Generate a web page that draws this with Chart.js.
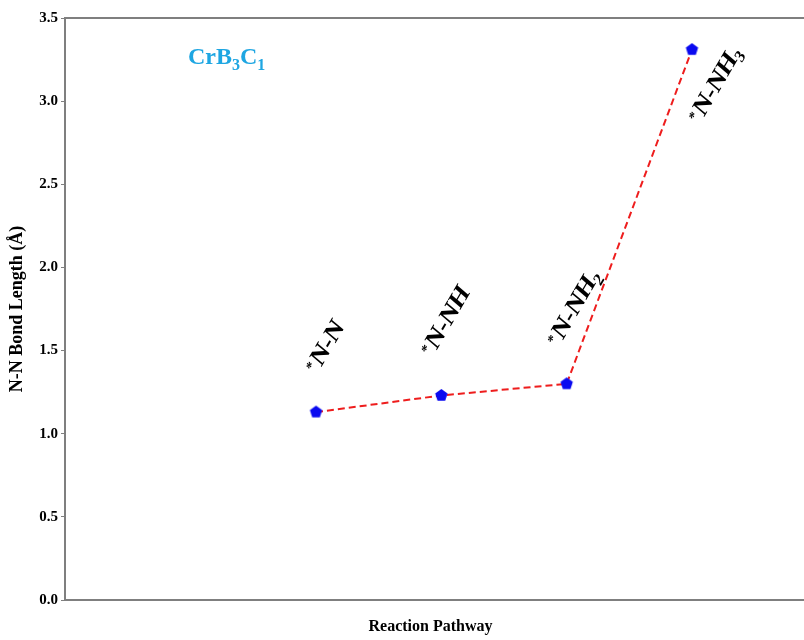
<!DOCTYPE html>
<html>
<head>
<meta charset="utf-8">
<script src="https://cdn.jsdelivr.net/npm/chart.js@4.4.1/dist/chart.umd.min.js"></script>
<style>
  html, body { margin: 0; padding: 0; background: #fff; overflow: hidden; }
  #bondChart { display: block; }
</style>
</head>
<body>
<canvas id="bondChart" width="804" height="640"></canvas>
<script>
// N-N bond length along the NRR pathway on CrB3C1
const steps = ['N-N', 'N-NH', 'N-NH2', 'N-NH3'];
const bondLengths = [1.13, 1.23, 1.30, 3.31];
const yTicks = [0.0, 0.5, 1.0, 1.5, 2.0, 2.5, 3.0, 3.5];
const systemName = 'CrB3C1';

const serif = '"Liberation Serif", "Times New Roman", serif';
const spineColor = '#7f7f7f';

// blue pentagon marker
function pentagon(r, color) {
    const c = document.createElement('canvas');
    const s = Math.ceil(r * 2 + 2);
    c.width = s; c.height = s;
    const g = c.getContext('2d');
    g.beginPath();
    for (let k = 0; k < 5; k++) {
        const a = -Math.PI / 2 + k * 2 * Math.PI / 5;
        const px = s / 2 + r * Math.cos(a), py = s / 2 + r * Math.sin(a);
        k ? g.lineTo(px, py) : g.moveTo(px, py);
    }
    g.closePath();
    g.fillStyle = color;
    g.fill();
    return c;
}

// draw text pieces (normal / sup / sub) in a row, centred on 0
function drawPieces(ctx, pieces) {
    let total = 0;
    pieces.forEach(p => { ctx.font = p.font; p.w = ctx.measureText(p.text).width; total += p.w + (p.gap || 0); });
    let x = -total / 2;
    pieces.forEach(p => {
        ctx.font = p.font;
        ctx.fillText(p.text, x, p.dy);
        x += p.w + (p.gap || 0);
    });
}

const stepLabels = {
    id: 'stepLabels',
    afterDatasetsDraw(chart) {
        const ctx = chart.ctx;
        const pts = chart.getDatasetMeta(0).data;
        const shifts = [[8, -66], [3, -75], [6, -77], [22, 34]];
        ctx.save();
        ctx.fillStyle = '#000';
        ctx.textBaseline = 'alphabetic';
        pts.forEach((pt, i) => {
            const m = steps[i].match(/^(.*?)(\d*)$/);
            const pieces = [
                { text: '*', font: 'bold 13px ' + serif, dy: 3, gap: 2 },
                { text: m[1], font: 'bold 23px ' + serif, dy: 8 }
            ];
            if (m[2]) pieces.push({ text: m[2], font: 'bold 15px ' + serif, dy: 13 });
            ctx.save();
            ctx.translate(pt.x + shifts[i][0], pt.y + shifts[i][1]);
            ctx.scale(1, 1.2);
            ctx.rotate(-55 * Math.PI / 180);
            drawPieces(ctx, pieces);
            ctx.restore();
        });
        ctx.restore();
    }
};

const frame = {
    id: 'frame',
    afterDraw(chart) {
        const { ctx, chartArea } = chart;
        ctx.save();
        // top and bottom spines, running to the canvas edge
        ctx.strokeStyle = spineColor;
        ctx.lineWidth = 2;
        ctx.beginPath();
        ctx.moveTo(chartArea.left, chartArea.top);
        ctx.lineTo(chart.width, chartArea.top);
        ctx.moveTo(chartArea.left - 1, chartArea.bottom);
        ctx.lineTo(chart.width, chartArea.bottom);
        ctx.stroke();

        // system name, with subscripts
        const m = systemName.match(/[A-Z][a-z]?\d*/g);
        let x = chartArea.left + 123;
        const base = chartArea.top + 46;
        ctx.fillStyle = '#1ea6e2';
        ctx.textBaseline = 'alphabetic';
        m.forEach(part => {
            const el = part.replace(/\d+/, ''), n = part.replace(/\D+/, '');
            ctx.font = 'bold 24px ' + serif;
            ctx.fillText(el, x, base);
            x += ctx.measureText(el).width;
            if (n) {
                ctx.font = 'bold 16px ' + serif;
                ctx.fillText(n, x, base + 6);
                x += ctx.measureText(n).width;
            }
        });
        ctx.restore();
    }
};

const ctx = document.getElementById('bondChart').getContext('2d');
const bondChart = new Chart(ctx, {
    type: 'line',
    data: {
        datasets: [{
            data: bondLengths.map((v, i) => ({ x: i, y: v })),
            borderColor: '#ee1d1d',
            borderWidth: 2,
            borderDash: [7, 4],
            fill: false,
            tension: 0,
            pointStyle: pentagon(6.5, '#0a0af0'),
            pointRadius: 6
        }]
    },
    options: {
        responsive: false,
        animation: false,
        devicePixelRatio: 1,
        layout: { padding: { top: 18, right: 0, left: 0, bottom: 0 } },
        plugins: {
            legend: { display: false },
            tooltip: { enabled: false }
        },
        scales: {
            x: {
                type: 'linear',
                min: -2.003,
                max: 3.83,
                ticks: { display: false },
                grid: { display: false },
                border: { display: false },
                title: {
                    display: true,
                    text: 'Reaction Pathway',
                    color: '#000',
                    font: { family: serif, size: 16, weight: 'bold' },
                    padding: { top: 0, bottom: 4 }
                },
                afterFit(scale) { scale.height = 40; }
            },
            y: {
                min: 0,
                max: 3.5,
                afterBuildTicks(scale) { scale.ticks = yTicks.map(v => ({ value: v })); },
                ticks: {
                    color: '#000',
                    padding: 3,
                    font: { family: serif, size: 15, weight: 'bold' },
                    callback: v => v.toFixed(1)
                },
                grid: {
                    drawOnChartArea: false,
                    drawTicks: true,
                    tickLength: 4,
                    color: spineColor,
                    lineWidth: 1
                },
                border: { display: true, color: spineColor, width: 2 },
                title: {
                    display: true,
                    text: 'N-N Bond Length (Å)',
                    color: '#000',
                    font: { family: serif, size: 18, weight: 'bold' },
                    padding: { top: 7, bottom: 0 }
                },
                afterFit(scale) { scale.width = 65; }
            }
        }
    },
    plugins: [stepLabels, frame]
});
</script>
</body>
</html>
